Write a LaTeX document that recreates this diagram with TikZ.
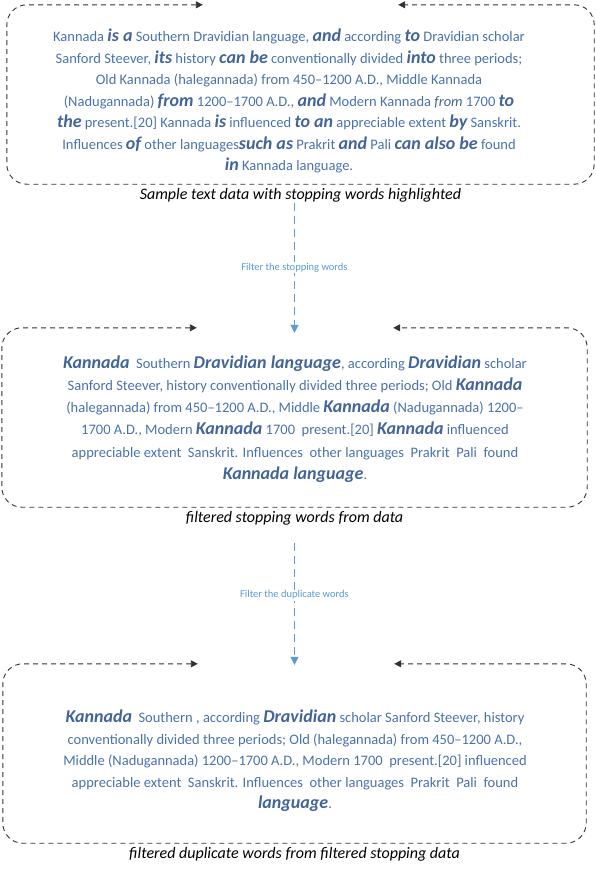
\documentclass[tikz,border=0pt]{standalone}
\usepackage{fontspec}
\setmainfont{Carlito}
\usetikzlibrary{arrows.meta, positioning}

\definecolor{txtblue}{RGB}{74,114,170}
\definecolor{hlblue}{RGB}{66,100,152}
\definecolor{flowblue}{RGB}{91,155,213}

% stopping word: bold italic, larger, darker
\newcommand{\sw}[1]{{\fontsize{18}{21.5}\selectfont\bfseries\itshape\color{hlblue}#1}}

\begin{document}
\begin{tikzpicture}[x=1pt, y=-1pt,
  box/.style={minimum width=#1, minimum height=179pt, inner sep=0pt},
  frame/.style={{Triangle[length=7pt,width=7pt]}-{Triangle[length=7pt,width=7pt]},
    black!80, line width=0.9pt, dash pattern=on 5pt off 4pt, rounded corners=20pt},
  body/.style={align=center, inner sep=0pt, text=txtblue,
    font=\fontsize{14.5}{21.5}\selectfont},
  caption/.style={below=4pt of #1, inner sep=0pt, font=\fontsize{16}{18}\selectfont\itshape},
  flow/.style={-{Triangle[length=8pt,width=8pt]}, draw=flowblue, line width=1pt,
    dash pattern=on 8pt off 5pt},
  flowlabel/.style={fill=white, inner sep=1pt, text=flowblue,
    font=\fontsize{10.5}{12}\selectfont}]
\useasboundingbox (0,0) rectangle (595,871);

% Boxes
\node[box=587pt] (box1) at (300.5,94.5) {};
\node[box=585pt] (box2) at (294.5,417.5) {};
\node[box=583pt] (box3) at (294.5,753.5) {};

% Dashed frames, open at the top
\foreach \b/\l/\r in {box1/196pt/196pt, box2/195pt/194pt, box3/195pt/192pt} {
  \draw[frame] ([xshift=\l]\b.north west) -- (\b.north west) -- (\b.south west)
    -- (\b.south east) -- (\b.north east) -- ([xshift=-\r]\b.north east);
}

% Text blocks
\node[body] (txt1) at (289,101) {%
Kannada \sw{is a} Southern Dravidian language, \sw{and} according \sw{to} Dravidian scholar\\
Sanford Steever, \sw{its} history \sw{can be} conventionally divided \sw{into} three periods;\\
Old Kannada (halegannada) from 450–1200 A.D., Middle Kannada\\
(Nadugannada) \sw{from} 1200–1700 A.D., \sw{and} Modern Kannada {\itshape\color{hlblue}from} 1700 \sw{to}\\
\sw{the} present.[20] Kannada \sw{is} influenced \sw{to an} appreciable extent \sw{by} Sanskrit.\\
Influences \sw{of} other languages\sw{such as} Prakrit \sw{and} Pali \sw{can also be} found\\
\sw{in} Kannada language.};

\node[body, font=\fontsize{14.5}{22.2}\selectfont] (txt2) at (295,419) {%
\sw{Kannada}~ Southern \sw{Dravidian language}, according \sw{Dravidian} scholar\\
Sanford Steever, history conventionally divided three periods; Old \sw{Kannada}\\
(halegannada) from 450–1200 A.D., Middle \sw{Kannada} (Nadugannada) 1200–\\
1700 A.D., Modern \sw{Kannada} 1700~ present.[20] \sw{Kannada} influenced\\
appreciable extent~ Sanskrit. Influences~ other languages~ Prakrit~ Pali~ found\\
\sw{Kannada language}.};

\node[body] (txt3) at (295,761) {%
\sw{Kannada}~ Southern , according \sw{Dravidian} scholar Sanford Steever, history\\
conventionally divided three periods; Old (halegannada) from 450–1200 A.D.,\\
Middle (Nadugannada) 1200–1700 A.D., Modern 1700~ present.[20] influenced\\
appreciable extent~ Sanskrit. Influences~ other languages~ Prakrit~ Pali~ found\\
\sw{language}.};

% Captions
\node[caption=box1] (cap1) {Sample text data with stopping words highlighted};
\node[caption=box2] (cap2) {filtered stopping words from data};
\node[caption=box3] (cap3) {filtered duplicate words from filtered stopping data};

% Filtering steps
\draw[flow, shorten <=1pt] (cap1.south -| box2.north) -- ([yshift=-5pt]box2.north)
  node[midway, flowlabel] {Filter the stopping words};
\draw[flow, shorten <=18pt] (cap2.south -| box3.north) -- ([yshift=-1pt]box3.north)
  node[midway, flowlabel] {Filter the duplicate words};

\end{tikzpicture}
\end{document}
